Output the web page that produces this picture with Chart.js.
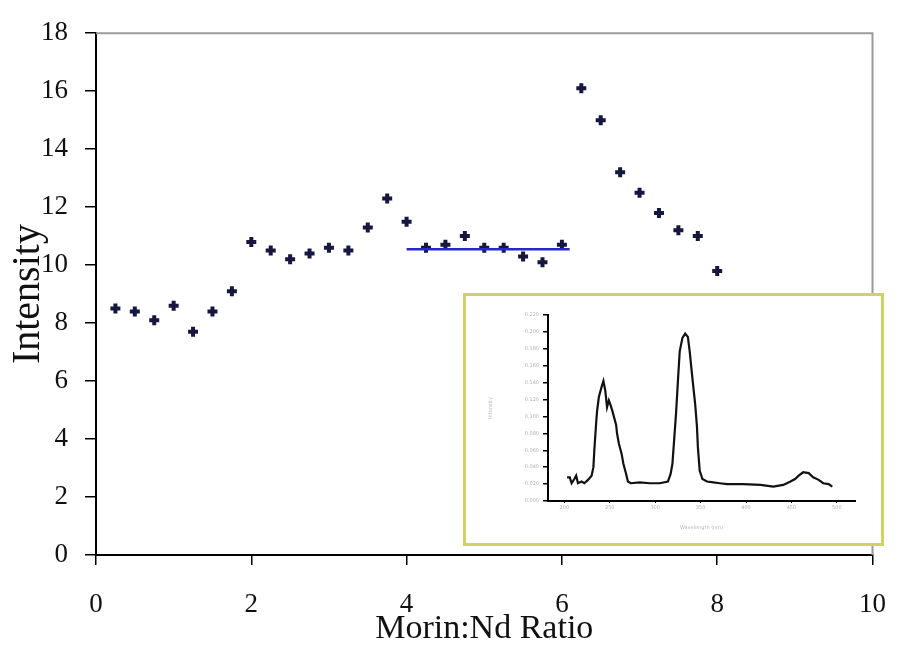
<!DOCTYPE html>
<html>
<head>
<meta charset="utf-8">
<script src="https://cdn.jsdelivr.net/npm/chart.js@4.4.0/dist/chart.umd.min.js"></script>
<style>
  body { margin: 0; background: #fff; }
  #wrap { position: relative; width: 910px; height: 650px; }
  #inset {
    position: absolute; left: 463px; top: 293px;
    width: 421px; height: 253px; box-sizing: border-box;
    border: 3px solid #d3d064; background: #fff;
  }
</style>
</head>
<body>
<div id="wrap">
  <canvas id="grafico" width="910" height="650"></canvas>
  <div id="inset"><canvas id="graficoInset" width="415" height="247"></canvas></div>
</div>
<script>
// main scatter: Morin:Nd ratio vs intensity
const razao = [0.25, 0.5, 0.75, 1.0, 1.25, 1.5, 1.75, 2.0, 2.25, 2.5, 2.75, 3.0, 3.25, 3.5, 3.75, 4.0,
  4.25, 4.5, 4.75, 5.0, 5.25, 5.5, 5.75, 6.0, 6.25, 6.5, 6.75, 7.0, 7.25, 7.5, 7.75, 8.0]
const intensidade = [8.5, 8.4, 8.1, 8.6, 7.7, 8.4, 9.1, 10.8, 10.5, 10.2, 10.4, 10.6, 10.5, 11.3, 12.3, 11.5,
  10.6, 10.7, 11.0, 10.6, 10.6, 10.3, 10.1, 10.7, 16.1, 15.0, 13.2, 12.5, 11.8, 11.2, 11.0, 9.8]

// blue plateau line
const linhaX = [4.0, 6.1]
const linhaY = [10.55, 10.55]

// inset spectrum
const espectroX = [203, 206, 208, 211, 213, 215, 219, 222, 226, 230, 232, 233, 235, 236, 238, 241, 243, 245,
  247, 249, 251, 253, 255, 257, 258, 260, 263, 265, 268, 270, 273, 283, 294, 305, 314, 317, 319, 321, 323,
  325, 327, 330, 333, 336, 338, 341, 344, 346, 347, 349, 352, 357, 364, 371, 379, 397, 416, 430, 441, 449,
  454, 458, 463, 469, 474, 480, 485, 491, 495]
const espectroY = [0.028, 0.028, 0.021, 0.026, 0.030, 0.021, 0.023, 0.021, 0.025, 0.030, 0.040, 0.060, 0.092,
  0.106, 0.123, 0.135, 0.142, 0.131, 0.111, 0.119, 0.113, 0.106, 0.098, 0.090, 0.080, 0.068, 0.056, 0.044,
  0.032, 0.023, 0.021, 0.022, 0.021, 0.021, 0.023, 0.032, 0.044, 0.074, 0.104, 0.141, 0.177, 0.193, 0.198,
  0.194, 0.177, 0.145, 0.115, 0.088, 0.064, 0.036, 0.026, 0.023, 0.022, 0.021, 0.020, 0.020, 0.019, 0.017,
  0.019, 0.023, 0.026, 0.030, 0.034, 0.033, 0.028, 0.025, 0.021, 0.020, 0.017]
const espectroTicks = [200, 250, 300, 350, 400, 450, 500]

const fonte = 'Liberation Serif'

const pontos = razao.map((x, i) => ({ x: x, y: intensidade[i] }))
const linha = linhaX.map((x, i) => ({ x: x, y: linhaY[i] }))
const espectro = espectroX.map((x, i) => ({ x: x, y: espectroY[i] }))

// grey frame on top and right of the plot area
const moldura = {
  id: 'moldura',
  beforeDatasetsDraw(chart) {
    const { ctx, chartArea: a } = chart
    ctx.save()
    ctx.strokeStyle = '#9a9a9a'
    ctx.lineWidth = 2
    ctx.beginPath()
    ctx.moveTo(a.left, a.top)
    ctx.lineTo(a.right, a.top)
    ctx.lineTo(a.right, a.bottom)
    ctx.stroke()
    ctx.restore()
  }
}

new Chart(document.getElementById('grafico'), {
  type: 'scatter',
  data: {
    datasets: [
      {
        type: 'line',
        data: linha,
        borderColor: '#2828c8',
        borderWidth: 2.5,
        pointRadius: 0,
        fill: false
      },
      {
        data: pontos,
        pointStyle: 'cross',
        pointRadius: 5,
        borderWidth: 4,
        borderColor: '#16163e',
        backgroundColor: '#16163e'
      }
    ]
  },
  options: {
    responsive: false,
    animation: false,
    layout: { padding: { top: 21, right: 18, left: 0, bottom: 0 } },
    plugins: { legend: { display: false }, tooltip: { enabled: false } },
    scales: {
      x: {
        type: 'linear', min: 0, max: 10,
        afterFit(s) { s.height = 95 },
        ticks: { stepSize: 2, padding: 24, color: '#111', font: { family: fonte, size: 27 } },
        grid: { drawOnChartArea: false, tickLength: 10, color: '#000', lineWidth: 1.5 },
        border: { color: '#000', width: 2 },
        title: { display: true, text: 'Morin:Nd Ratio', color: '#111', padding: { top: 0, bottom: 1 },
          font: { family: fonte, size: 34, lineHeight: 1.2 } }
      },
      y: {
        min: 0, max: 18,
        afterFit(s) { s.width = 96 },
        ticks: { stepSize: 2, padding: 17, color: '#111', font: { family: fonte, size: 27 } },
        grid: { drawOnChartArea: false, tickLength: 11, color: '#000', lineWidth: 1.5 },
        border: { color: '#000', width: 2 },
        title: { display: true, text: 'Intensity', color: '#111', padding: { top: 4, bottom: 0 },
          font: { family: fonte, size: 40, lineHeight: 1.2 } }
      }
    }
  },
  plugins: [moldura]
})

new Chart(document.getElementById('graficoInset'), {
  type: 'scatter',
  data: {
    datasets: [{
      type: 'line',
      data: espectro,
      borderColor: '#111',
      borderWidth: 2.2,
      pointRadius: 0,
      tension: 0,
      fill: false
    }]
  },
  options: {
    responsive: false,
    animation: false,
    layout: { padding: { top: 19, right: 26, left: 0, bottom: 0 } },
    plugins: { legend: { display: false }, tooltip: { enabled: false } },
    scales: {
      x: {
        type: 'linear', min: 182, max: 520,
        afterFit(s) { s.height = 42 },
        afterBuildTicks(s) { s.ticks = espectroTicks.map(v => ({ value: v })) },
        ticks: { padding: 2, color: '#b0b0b0', font: { family: 'DejaVu Sans', size: 5 } },
        grid: { drawOnChartArea: false, tickLength: 2, color: '#000' },
        border: { color: '#000', width: 2 },
        title: { display: true, text: 'Wavelength (nm)', color: '#b8b8b8', padding: { top: 0, bottom: 12 },
          font: { family: 'DejaVu Sans', size: 5 } }
      },
      y: {
        min: 0, max: 0.22,
        afterFit(s) { s.width = 82 },
        ticks: { stepSize: 0.02, padding: 4, color: '#b0b0b0', font: { family: 'DejaVu Sans', size: 5 },
          callback: v => v.toFixed(3) },
        grid: { drawOnChartArea: false, tickLength: 5, color: '#000', lineWidth: 1.5 },
        border: { color: '#000', width: 2 },
        title: { display: true, text: 'Intensity', color: '#b8b8b8', padding: { top: 22, bottom: 0 },
          font: { family: 'DejaVu Sans', size: 5 } }
      }
    }
  }
})
</script>
</body>
</html>
